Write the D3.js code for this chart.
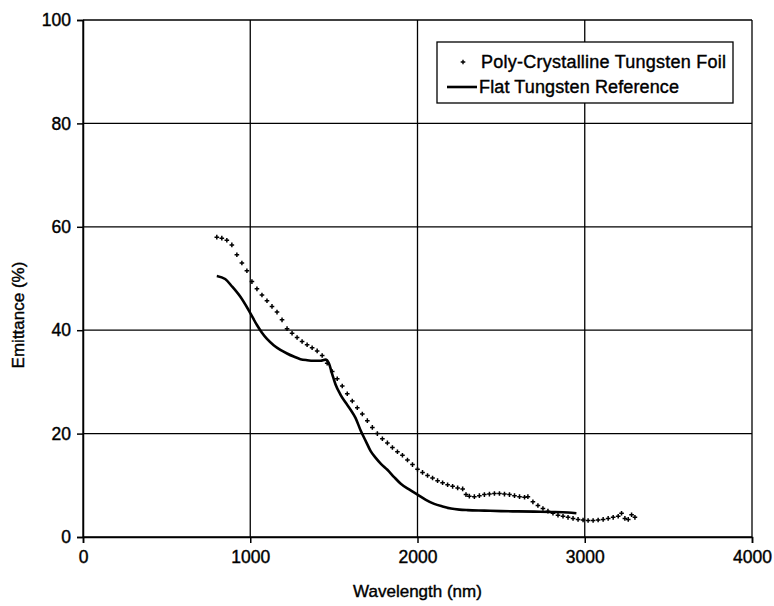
<!DOCTYPE html>
<html>
<head>
<meta charset="utf-8">
<script src="https://cdn.jsdelivr.net/npm/d3@7"></script>
<style>
body { margin: 0; background: #fff; }
text { font-family: Arial, "Liberation Sans", sans-serif; fill: #000; }
</style>
</head>
<body>
<div id="chart"></div>
<script>
// wavelength (nm) / emittance (%)
var foilX = [800, 830, 860, 890, 920, 950, 980, 1010, 1040, 1070, 1100, 1130, 1160, 1190, 1220, 1250, 1280, 1310, 1340, 1370, 1400, 1430, 1460, 1490, 1520, 1550, 1580, 1610, 1640, 1670, 1700, 1730, 1760, 1790, 1820, 1850, 1880, 1910, 1940, 1970, 2000, 2030, 2060, 2090, 2120, 2150, 2180, 2210, 2240, 2270, 2290, 2310, 2340, 2370, 2400, 2430, 2460, 2490, 2520, 2550, 2580, 2610, 2640, 2660, 2690, 2720, 2750, 2780, 2810, 2840, 2870, 2900, 2930, 2960, 2990, 3020, 3050, 3080, 3110, 3140, 3170, 3200, 3220, 3240, 3260, 3280, 3300];
var foilY = [58.0, 57.8, 57.4, 56.5, 54.6, 53.0, 51.5, 49.4, 48.0, 46.8, 45.7, 44.6, 43.5, 42.0, 40.3, 39.4, 38.6, 37.8, 37.2, 36.6, 36.0, 35.1, 33.6, 32.0, 30.6, 29.2, 27.7, 26.3, 25.0, 23.8, 22.5, 21.2, 20.0, 19.0, 18.2, 17.3, 16.5, 15.8, 14.9, 14.0, 13.1, 12.5, 11.9, 11.4, 10.9, 10.5, 10.1, 9.8, 9.5, 9.3, 8.2, 7.9, 7.8, 8.0, 8.2, 8.3, 8.4, 8.4, 8.3, 8.2, 8.0, 7.8, 7.7, 7.8, 6.8, 6.1, 5.5, 5.0, 4.6, 4.2, 4.0, 3.8, 3.6, 3.4, 3.3, 3.2, 3.2, 3.3, 3.4, 3.6, 3.8, 4.0, 4.6, 3.6, 3.4, 4.3, 3.8];

var refX = [800, 850, 890, 940, 990, 1040, 1070, 1100, 1140, 1180, 1220, 1260, 1300, 1340, 1380, 1420, 1450, 1470, 1490, 1510, 1540, 1570, 1600, 1630, 1660, 1690, 1720, 1750, 1780, 1820, 1860, 1900, 1950, 2000, 2050, 2100, 2150, 2200, 2250, 2300, 2400, 2500, 2600, 2700, 2800, 2900, 2950];
var refY = [50.5, 49.9, 48.5, 46.5, 43.9, 41.0, 39.5, 38.3, 37.1, 36.2, 35.5, 34.9, 34.4, 34.2, 34.1, 34.1, 34.3, 33.6, 31.5, 29.5, 27.5, 26.0, 24.6, 23.0, 20.6, 18.6, 16.6, 15.3, 14.2, 13.0, 11.6, 10.3, 9.2, 8.2, 7.2, 6.4, 5.9, 5.5, 5.3, 5.2, 5.1, 5.0, 4.95, 4.9, 4.85, 4.75, 4.6];

var xTicks = [0, 1000, 2000, 3000, 4000];
var yTicks = [0, 20, 40, 60, 80, 100];
var seriesNames = ["Poly-Crystalline Tungsten Foil", "Flat Tungsten Reference"];

var width = 774, height = 606;
var margin = {top: 20, right: 22, bottom: 69, left: 83};

var svg = d3.select("#chart").append("svg")
	.attr("width", width)
	.attr("height", height);

var x = d3.scaleLinear().domain([0, 4000]).range([margin.left, width - margin.right]);
var y = d3.scaleLinear().domain([0, 100]).range([height - margin.bottom, margin.top]);

// grid
svg.append("g")
	.selectAll("line.v")
	.data(xTicks)
	.enter()
	.append("line")
	.attr("x1", d => x(d)).attr("x2", d => x(d))
	.attr("y1", y(0)).attr("y2", y(100))
	.attr("stroke", "#000").attr("stroke-width", 1.3);

svg.append("g")
	.selectAll("line.h")
	.data(yTicks)
	.enter()
	.append("line")
	.attr("x1", x(0)).attr("x2", x(4000))
	.attr("y1", d => y(d)).attr("y2", d => y(d))
	.attr("stroke", "#000").attr("stroke-width", 1.3);

var xAxis = svg.append("g")
	.attr("transform", `translate(0,${y(0)})`)
	.call(d3.axisBottom(x).tickValues(xTicks).tickSize(6).tickPadding(8).tickFormat(d3.format("d")));
var yAxis = svg.append("g")
	.attr("transform", `translate(${x(0)},0)`)
	.call(d3.axisLeft(y).tickValues(yTicks).tickSize(6).tickPadding(6));

[xAxis, yAxis].forEach(function(a) {
	a.select(".domain").attr("stroke", "#000").attr("stroke-width", 1.5);
	a.selectAll(".tick line").attr("stroke", "#000").attr("stroke-width", 1.5);
	a.selectAll("text")
		.style("font-size", "17.5px")
		.attr("fill", "#000")
		.attr("stroke", "#000").attr("stroke-width", 0.4);
});

var foil = foilX.map((d, i) => [d, foilY[i]]);
var ref = refX.map((d, i) => [d, refY[i]]);

// flat tungsten reference
var line = d3.line()
	.x(d => x(d[0]))
	.y(d => y(d[1]))
	.curve(d3.curveMonotoneX);

svg.append("path")
	.datum(ref)
	.attr("d", line)
	.attr("fill", "none")
	.attr("stroke", "#000")
	.attr("stroke-width", 2.6);

// foil markers, small plus signs
var plus = "M-2.3,0H2.3M0,-2.3V2.3";
svg.append("g")
	.selectAll("path")
	.data(foil)
	.enter()
	.append("path")
	.attr("d", plus)
	.attr("transform", d => `translate(${x(d[0])},${y(d[1])})`)
	.attr("stroke", "#000")
	.attr("stroke-width", 1.5);

// legend
var lg = svg.append("g").attr("transform", "translate(437,42)");
lg.append("rect")
	.attr("width", 296).attr("height", 61)
	.attr("fill", "#fff").attr("stroke", "#000").attr("stroke-width", 1.3);
lg.append("path")
	.attr("d", plus)
	.attr("transform", "translate(26,20)")
	.attr("stroke", "#000").attr("stroke-width", 1.4);
lg.append("line")
	.attr("x1", 10).attr("x2", 40).attr("y1", 45).attr("y2", 45)
	.attr("stroke", "#000").attr("stroke-width", 2.6);
lg.selectAll("text")
	.data(seriesNames)
	.enter()
	.append("text")
	.attr("x", (d, i) => i === 0 ? 44 : 42)
	.attr("y", (d, i) => 26 + i * 25)
	.style("font-size", "18px")
	.attr("textLength", (d, i) => i === 0 ? 245 : 200)
	.attr("stroke", "#000").attr("stroke-width", 0.4)
	.text(d => d);

// axis titles
svg.append("text")
	.attr("x", (x(0) + x(4000)) / 2)
	.attr("y", 597)
	.attr("text-anchor", "middle")
	.style("font-size", "17px")
	.attr("stroke", "#000").attr("stroke-width", 0.4)
	.text("Wavelength (nm)");

svg.append("text")
	.attr("transform", `translate(24,315) rotate(-90)`)
	.attr("text-anchor", "middle")
	.style("font-size", "17px")
	.attr("stroke", "#000").attr("stroke-width", 0.4)
	.text("Emittance (%)");
</script>
</body>
</html>
